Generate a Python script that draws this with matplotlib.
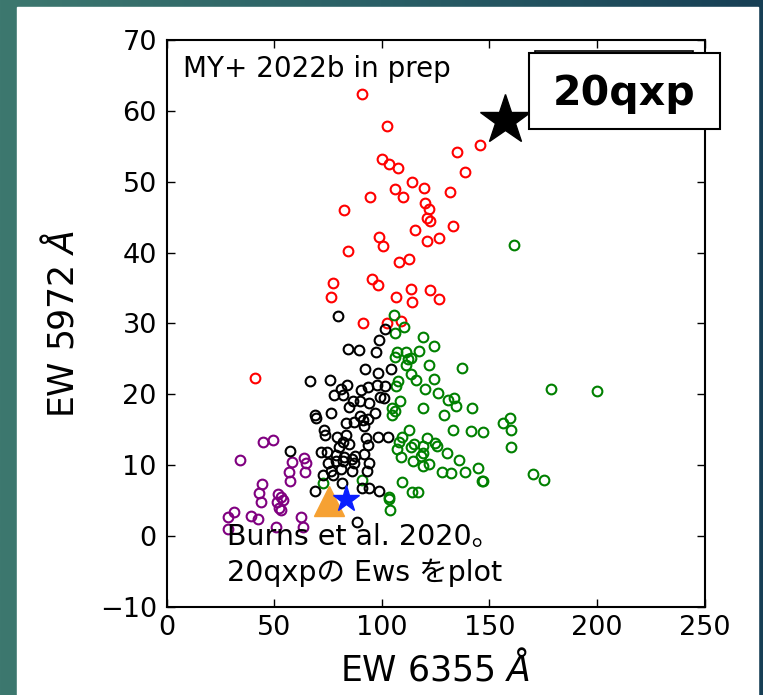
import numpy as np
import matplotlib
matplotlib.use('Agg')
import matplotlib.pyplot as plt
from matplotlib.colors import LinearSegmentedColormap
from matplotlib.patches import Rectangle

plt.rcParams['font.family'] = ['DejaVu Sans', 'Noto Sans CJK JP']
plt.rcParams['mathtext.fontset'] = 'dejavusans'

# EW values (EW 6355 vs EW 5972)
red_x = [90.8, 102.3, 145.7, 134.8, 100.0, 103.2, 107.4, 138.7, 114.0, 106.1,
         119.5, 131.7, 94.7, 110.1, 120.1, 122.0, 82.4, 121.1, 122.4, 133.3,
         115.3, 98.7, 100.8, 126.6, 121.2, 84.2, 112.5, 108.0, 77.6, 76.6,
         95.5, 98.4, 113.5, 122.4, 106.5, 114.0, 126.7, 91.3, 102.3, 109.0, 41.2]
red_y = [62.4, 57.8, 55.2, 54.2, 53.2, 52.5, 52.0, 51.3, 49.9, 49.0,
         49.1, 48.6, 47.9, 47.8, 47.0, 46.2, 46.0, 44.9, 44.4, 43.8,
         43.2, 42.2, 40.9, 42.0, 41.6, 40.2, 39.1, 38.6, 35.7, 33.7,
         36.2, 35.4, 34.9, 34.7, 33.7, 33.0, 33.5, 30.1, 30.1, 30.4, 22.3]

black_x = [79.8, 101.7, 98.7, 84.5, 89.6, 97.5, 92.4, 98.1, 104.2, 66.5,
           75.8, 84.0, 81.1, 90.5, 93.8, 97.9, 101.7, 77.9, 81.9, 86.5,
           90.1, 93.9, 99.2, 101.1, 85.0, 76.3, 68.9, 69.7, 90.0, 93.8,
           97.1, 91.4, 83.2, 87.0, 91.8, 73.4, 73.5, 79.4, 83.5, 81.9,
           80.3, 85.0, 92.6, 98.5, 102.9, 93.7, 57.4, 71.9, 74.4, 78.7,
           82.3, 87.4, 91.8, 75.2, 78.7, 81.9, 86.1, 87.2, 93.9, 76.3,
           81.1, 86.0, 93.0, 72.9, 77.6, 81.4, 69.2, 90.8, 93.9, 98.7, 88.7]
black_y = [31.1, 29.2, 27.6, 26.4, 26.2, 26.0, 23.5, 23.0, 23.5, 21.9,
           22.0, 21.3, 20.7, 20.6, 21.0, 21.3, 21.2, 19.9, 19.9, 19.1,
           19.1, 18.7, 19.6, 19.4, 18.2, 17.3, 17.0, 16.6, 16.9, 16.5,
           17.3, 16.3, 15.9, 16.1, 15.5, 15.0, 14.3, 13.9, 14.2, 13.2,
           12.6, 12.9, 13.8, 14.0, 14.0, 12.8, 12.0, 11.8, 11.8, 11.4,
           11.2, 11.3, 11.6, 10.3, 10.5, 10.5, 10.8, 10.3, 10.3, 9.2,
           9.4, 9.2, 9.2, 8.6, 8.6, 7.5, 6.3, 6.7, 6.7, 6.4, 1.9]

green_x = [105.7, 106.1, 110.2, 119.0, 124.1, 117.5, 106.9, 111.3, 106.4, 112.1,
           113.6, 111.3, 122.0, 137.3, 113.6, 115.9, 124.1, 107.7, 106.6, 120.3,
           126.2, 130.6, 133.8, 134.4, 142.0, 108.7, 104.8, 106.1, 105.0, 119.3,
           128.8, 178.9, 200.0, 159.4, 156.5, 159.9, 160.1, 133.1, 141.5, 147.2,
           112.8, 109.6, 108.2, 120.9, 115.0, 113.5, 124.9, 125.9, 107.2, 119.0,
           119.0, 118.1, 130.2, 109.2, 136.1, 114.7, 119.3, 121.9, 144.9, 128.2,
           132.2, 138.7, 170.2, 175.4, 146.6, 147.2, 109.6, 114.1, 116.7, 103.2,
           161.5, 103.5, 103.8, 72.9, 90.7]
green_y = [31.2, 28.6, 29.5, 28.1, 26.8, 26.1, 25.9, 25.9, 25.2, 24.9,
           25.1, 24.1, 24.1, 23.7, 22.8, 22.0, 22.1, 21.9, 21.2, 20.8,
           20.2, 19.2, 19.5, 18.3, 18.0, 19.1, 18.1, 17.6, 17.0, 18.0,
           17.0, 20.8, 20.4, 16.7, 15.9, 15.0, 12.6, 15.0, 14.8, 14.6,
           15.0, 14.0, 13.3, 13.8, 13.0, 12.6, 13.1, 12.7, 12.3, 12.7,
           11.7, 11.3, 11.7, 11.2, 10.7, 10.5, 9.9, 10.1, 9.6, 9.0,
           8.9, 9.0, 8.7, 7.9, 7.7, 7.8, 7.6, 6.2, 6.2, 5.5,
           41.0, 5.2, 3.7, 7.5, 7.9]

purple_x = [34.0, 44.7, 49.5, 58.4, 63.9, 64.7, 56.9, 64.2, 57.6, 44.4,
            43.0, 52.0, 53.1, 51.2, 54.0, 43.9, 52.1, 53.1, 31.4, 28.8,
            39.4, 42.5, 62.5, 28.4, 50.9, 63.6]
purple_y = [10.7, 13.3, 13.5, 10.4, 11.0, 10.3, 9.0, 9.0, 7.7, 7.3,
            6.0, 5.9, 5.5, 4.8, 5.0, 4.8, 3.9, 3.6, 3.3, 2.6,
            2.8, 2.4, 2.6, 0.9, 1.3, 1.2]

# SN 2020qxp (this work) and Burns et al. 2020 values
qxp_x, qxp_y = 157.3, 58.7
burns_tri_x, burns_tri_y = 75.5, 4.9
burns_star_x, burns_star_y = 83.3, 5.2

x_ticks = [0, 50, 100, 150, 200, 250]
y_ticks = [-10, 0, 10, 20, 30, 40, 50, 60, 70]

W, H = 763, 695


def fx(px):
    return px / W


def fy(py):
    return 1 - py / H


def plot_ew():
    fig = plt.figure(figsize=(W / 100, H / 100), dpi=100)

    # slide background: teal gradient with a white panel
    bg = fig.add_axes([0, 0, 1, 1], zorder=-10)
    cmap = LinearSegmentedColormap.from_list('slide', ['#3d786f', '#2a5f66', '#173f55'])
    bg.imshow(np.linspace(0, 1, 256).reshape(1, -1), aspect='auto', cmap=cmap,
              extent=[0, 1, 0, 1])
    bg.add_patch(Rectangle((fx(17), 0), fx(758) - fx(17), fy(7), color='white'))
    bg.set_xlim(0, 1)
    bg.set_ylim(0, 1)
    bg.axis('off')

    ax = fig.add_axes([fx(166.5), fy(606.7), fx(704.5) - fx(166.5), fy(40) - fy(606.7)])

    ms, mew = 7, 1.5
    ax.plot(purple_x, purple_y, 'o', mfc='none', mec='purple', ms=ms, mew=mew)
    ax.plot(red_x, red_y, 'o', mfc='none', mec='red', ms=ms, mew=mew)
    ax.plot(green_x, green_y, 'o', mfc='none', mec='green', ms=ms, mew=mew)
    ax.plot(black_x, black_y, 'o', mfc='none', mec='black', ms=ms, mew=mew)

    ax.plot(burns_tri_x, burns_tri_y, '^', color='#f6a133', ms=22, zorder=5)
    ax.plot(burns_star_x, burns_star_y, '*', color='#0a1eff', ms=20, zorder=6)
    ax.plot(qxp_x, qxp_y, '*', color='black', ms=38, zorder=6, clip_on=False)

    ax.set_xlim(0, 250)
    ax.set_ylim(-10, 70)
    ax.set_xticks(x_ticks)
    ax.set_yticks(y_ticks)
    ax.tick_params(direction='in', length=6, width=1, top=True, right=True,
                   labelsize=19.5)
    ax.tick_params(axis='x', pad=6)
    ax.tick_params(axis='y', pad=7)
    for s in ax.spines.values():
        s.set_linewidth(1.5)

    ax.set_xlabel('EW 6355 $Å$', fontsize=25, labelpad=6)
    ax.set_ylabel('EW 5972 $Å$', fontsize=25, labelpad=14)

    # annotations
    fig.text(fx(183), fy(77), 'MY+ 2022b in prep', fontsize=20, va='baseline')

    fig.text(fx(227), fy(545), 'Burns et al. 2020。', fontsize=20.5,
             va='baseline', zorder=10)
    fig.text(fx(227), fy(581), '20qxpの Ews をplot', fontsize=20.5,
             va='baseline', zorder=10)

    # 20qxp label box (with a frame peeking out behind it)
    fig.add_artist(Rectangle((fx(535), fy(128)), fx(693) - fx(535), fy(50.7) - fy(128),
                             transform=fig.transFigure, fc='white', ec='black',
                             lw=1.2, zorder=8))
    fig.add_artist(Rectangle((fx(529), fy(129)), fx(720) - fx(529), fy(52.7) - fy(129),
                             transform=fig.transFigure, fc='white', ec='black',
                             lw=1.5, zorder=9))
    fig.text(fx(624.5), fy(105), '20qxp', fontsize=29.5, fontweight='bold',
             ha='center', va='baseline', zorder=10)

    fig.savefig('out.png', dpi=100)


if __name__ == "__main__":
    plot_ew()
